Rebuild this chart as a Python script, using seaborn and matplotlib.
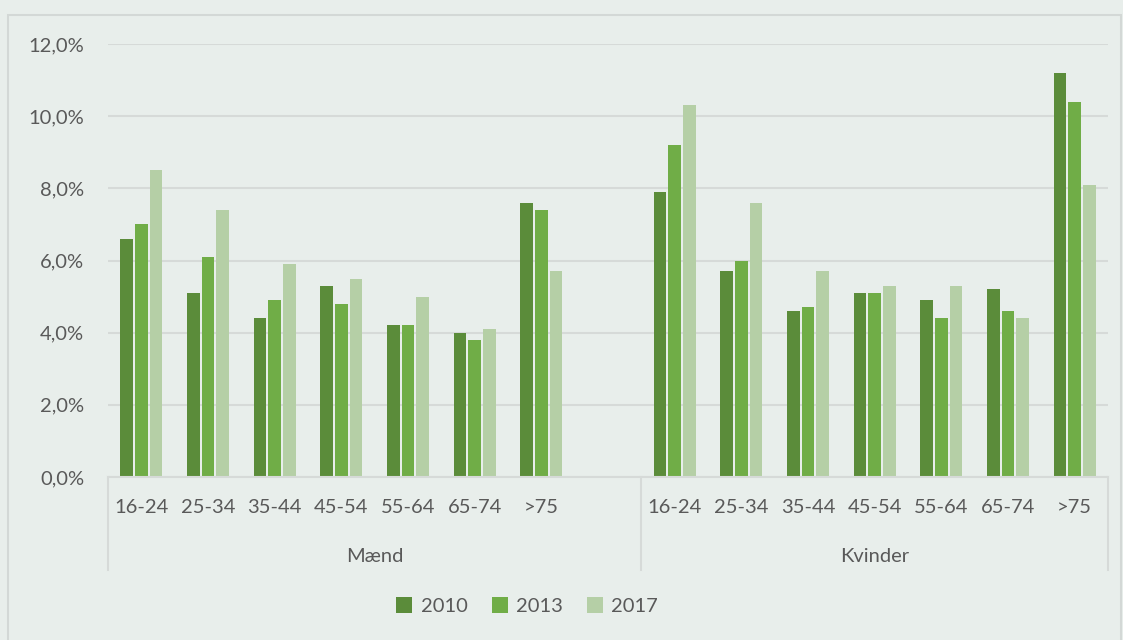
import pandas as pd
import matplotlib.pyplot as plt
import matplotlib.transforms as mtransforms
from matplotlib.patches import Rectangle
import seaborn as sns

ages = ['16-24', '25-34', '35-44', '45-54', '55-64', '65-74', '>75']
groups = ['Mænd', 'Kvinder']
years = ['2010', '2013', '2017']

maend_2010 = [6.6, 5.1, 4.4, 5.3, 4.2, 4.0, 7.6]
maend_2013 = [7.0, 6.1, 4.9, 4.8, 4.2, 3.8, 7.4]
maend_2017 = [8.5, 7.4, 5.9, 5.5, 5.0, 4.1, 5.7]
kvinder_2010 = [7.9, 5.7, 4.6, 5.1, 4.9, 5.2, 11.2]
kvinder_2013 = [9.2, 6.0, 4.7, 5.1, 4.4, 4.6, 10.4]
kvinder_2017 = [10.3, 7.6, 5.7, 5.3, 5.3, 4.4, 8.1]

colors = ['#5b8c3a', '#70ad47', '#b5cfa6']
bg = '#e8eeeb'
txt = '#595959'
grid = '#d6dad8'
fs = 14.5

series = {
    'Mænd': [maend_2010, maend_2013, maend_2017],
    'Kvinder': [kvinder_2010, kvinder_2013, kvinder_2017],
}
rows = []
for g in groups:
    for y, vals in zip(years, series[g]):
        for a, v in zip(ages, vals):
            rows.append({'slot': g + ' ' + a, 'year': y, 'value': v})
df = pd.DataFrame(rows)

# Mænd has an empty slot after >75
order = [f'Mænd {a}' for a in ages] + ['blank'] + [f'Kvinder {a}' for a in ages]

plt.rcParams['font.family'] = ['Lato', 'DejaVu Sans']
fig = plt.figure(figsize=(11.23, 6.4), dpi=100, facecolor=bg)
ax = fig.add_axes([108 / 1123, 1 - 477 / 640, 1000 / 1123, 433 / 640])
ax.set_facecolor(bg)

sns.barplot(data=df, x='slot', y='value', hue='year', order=order,
            hue_order=years, palette=colors, width=0.66, gap=0.15,
            saturation=1, ax=ax, legend=True, edgecolor='none')

ax.set_ylim(0, 12)
ax.set_xlim(-0.5, len(order) - 0.5)
ax.set_yticks(range(0, 13, 2))
ax.set_yticklabels([f'{v},0%' for v in range(0, 13, 2)], color=txt, fontsize=fs)
ax.tick_params(axis='y', length=0, pad=17)
ax.tick_params(axis='x', length=0)
ax.set_xticks(range(len(order)))
ax.set_xticklabels([a for a in ages] + [''] + [a for a in ages], color=txt,
                   fontsize=fs)
ax.tick_params(axis='x', pad=16)
ax.set_xlabel('')
ax.set_ylabel('')
ax.grid(axis='y', color=grid, linewidth=1.5)
ax.set_axisbelow(True)
for s in ax.spines.values():
    s.set_visible(False)

# two-level category axis
trans = mtransforms.blended_transform_factory(ax.transData, ax.transAxes)
ax.plot([-0.5, len(order) - 0.5], [0, 0], transform=trans, color=grid,
        linewidth=1.5, clip_on=False)
for xb in [-0.5, 7.5, len(order) - 0.5]:
    ax.plot([xb, xb], [0, -93 / 433], transform=trans, color=grid,
            linewidth=1.5, clip_on=False)
ax.text(3.5, -79 / 433, 'Mænd', transform=trans, ha='center', va='center',
        color=txt, fontsize=fs)
ax.text(11, -79 / 433, 'Kvinder', transform=trans, ha='center', va='center',
        color=txt, fontsize=fs)

handles, labels = ax.get_legend_handles_labels()
ax.get_legend().remove()
fig.legend(handles, labels, loc='center', ncol=3,
           bbox_to_anchor=(527 / 1123, 1 - 606 / 640), frameon=False,
           fontsize=fs, labelcolor=txt, handlelength=0.8, handleheight=0.8,
           handletextpad=0.4, columnspacing=1.2)

fig.patches.append(Rectangle((8 / 1123, -0.05), 1113 / 1123, 1 - 15 / 640 + 0.05,
                             transform=fig.transFigure, facecolor='none',
                             edgecolor='#d3d8d6', linewidth=1.5))

fig.savefig('out.png', dpi=100, facecolor=bg)
